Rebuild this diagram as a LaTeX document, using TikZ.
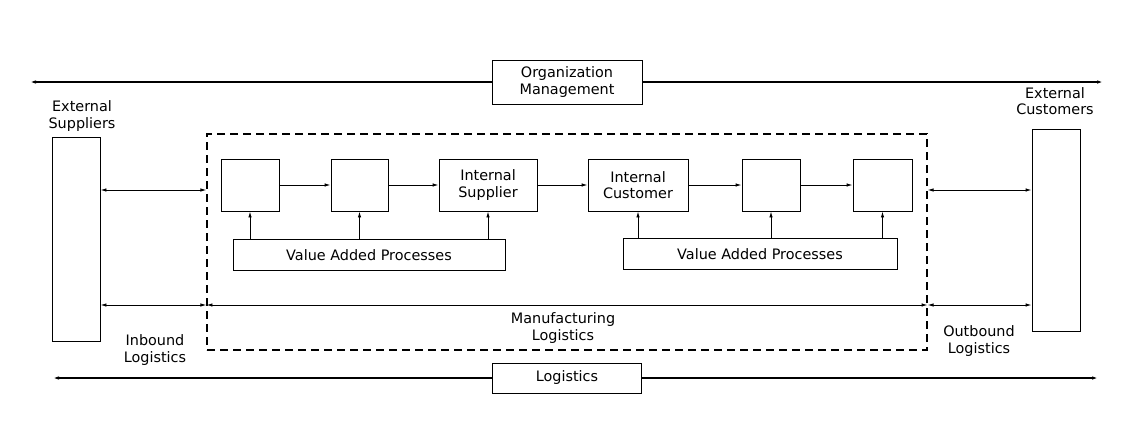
\documentclass[tikz,border=0pt]{standalone}
\usepackage{fontspec}
\setmainfont{DejaVu Sans}
\usetikzlibrary{arrows.meta}
\tikzset{
  box/.style={draw, line width=0.9pt, inner sep=0pt, align=center, font=\fontsize{14.4}{16.5}\selectfont},
  lbl/.style={inner sep=0pt, align=center, font=\fontsize{14.4}{16.5}\selectfont},
  tip/.style={-{Latex[length=6pt,width=3.5pt]}, line width=0.9pt},
  dbl/.style={{Latex[length=6pt,width=3.5pt]}-{Latex[length=6pt,width=3.5pt]}, line width=0.9pt},
  dashbox/.style={draw, line width=1.1pt, dash pattern=on 8pt off 5pt, inner sep=0pt}
}
\begin{document}
\begin{tikzpicture}[x=1pt,y=-1pt]
\useasboundingbox (0,0) rectangle (1132,423);
% outer flow lines
\node[box, minimum width=150pt, minimum height=44pt] (org) at (567,82) {Organization\\Management};
\node[box, minimum width=149pt, minimum height=30pt] (log) at (567,378) {Logistics};
\coordinate (tl) at (30,82);
\coordinate (tr) at (1103,82);
\coordinate (bl) at (53,378);
\coordinate (br) at (1098,378);
\draw[tip, line width=1.2pt] (org.west) -- (tl);
\draw[tip, line width=1.2pt] (org.east) -- (tr);
\draw[tip, line width=1.2pt] (log.west) -- (bl);
\draw[tip, line width=1.2pt] (log.east) -- (br);
% external parties
\node[box, minimum width=48pt, minimum height=204pt] (sup) at (76,239) {};
\node[lbl] (suplbl) at (82,116) {External\\Suppliers};
\node[box, minimum width=48pt, minimum height=202pt] (cus) at (1056,230) {};
\node[lbl] (cuslbl) at (1055,101) {External\\Customers};
% manufacturing area
\node[dashbox, minimum width=720pt, minimum height=216pt] (mfg) at (567,242) {};
% internal chain
\node[box, minimum width=58pt, minimum height=52pt] (b1) at (250,185) {};
\node[box, minimum width=57pt, minimum height=52pt] (b2) at (359.5,185) {};
\node[box, minimum width=98pt, minimum height=52pt] (b3) at (488,185) {Internal\\Supplier};
\node[box, minimum width=100pt, minimum height=52pt] (b4) at (638,185) {Internal\\Customer};
\node[box, minimum width=58pt, minimum height=52pt] (b5) at (771,185) {};
\node[box, minimum width=59pt, minimum height=52pt] (b6) at (882.5,185) {};
\draw[tip] (b1.east) -- (b2.west);
\draw[tip] (b2.east) -- (b3.west);
\draw[tip] (b3.east) -- (b4.west);
\draw[tip] (b4.east) -- (b5.west);
\draw[tip] (b5.east) -- (b6.west);
\node[box, minimum width=272pt, minimum height=31pt] (vap1) at (369,255) {Value Added Processes};
\node[box, minimum width=274pt, minimum height=31pt] (vap2) at (760,254) {Value Added Processes};
\draw[tip] (b1.south |- vap1.north) -- (b1.south);
\draw[tip] (b2.south |- vap1.north) -- (b2.south);
\draw[tip] (b3.south |- vap1.north) -- (b3.south);
\draw[tip] (b4.south |- vap2.north) -- (b4.south);
\draw[tip] (b5.south |- vap2.north) -- (b5.south);
\draw[tip] (b6.south |- vap2.north) -- (b6.south);
% flows between parties and manufacturing
\draw[dbl] (sup.east |- 0,190) -- (mfg.west |- 0,190);
\draw[dbl] (mfg.east |- 0,190) -- (cus.west |- 0,190);
\draw[dbl] (sup.east |- 0,305) -- (mfg.west |- 0,305);
\draw[dbl] (mfg.west |- 0,305) -- (mfg.east |- 0,305);
\draw[dbl] (mfg.east |- 0,305) -- (cus.west |- 0,305);
\node[lbl] (inb) at (155,350) {Inbound\\Logistics};
\node[lbl] (man) at (563,328) {Manufacturing\\Logistics};
\node[lbl] (outb) at (979,341) {Outbound\\Logistics};
\end{tikzpicture}
\end{document}
